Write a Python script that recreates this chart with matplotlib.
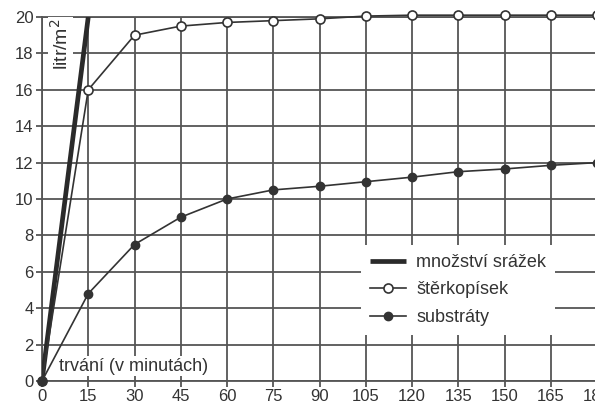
import matplotlib
matplotlib.use('Agg')
import matplotlib.pyplot as plt

plt.rcParams['font.family'] = ['Liberation Sans', 'DejaVu Sans']

# data
cas = [0, 15, 30, 45, 60, 75, 90, 105, 120, 135, 150, 165, 180]
sterkopisek = [0, 16.0, 19.0, 19.5, 19.7, 19.8, 19.9, 20.05, 20.1, 20.1, 20.1, 20.1, 20.1]
substraty = [0, 4.8, 7.5, 9.0, 10.0, 10.5, 10.7, 10.95, 11.2, 11.5, 11.65, 11.85, 12.0]
srazky_cas = [0, 15]
srazky = [0, 20]
x_ticks = list(range(0, 181, 15))
y_ticks = list(range(0, 21, 2))

ink = '#333333'
grid = '#555555'

fig = plt.figure(figsize=(5.95, 4.03), dpi=100)
ax = fig.add_axes([42 / 595, 22 / 403, 555 / 595, 364 / 403])

ax.plot(srazky_cas, srazky, color='#2a2a2a', lw=3.4, solid_capstyle='butt',
        label='množství srážek', zorder=4)
ax.plot(cas, sterkopisek, color=ink, lw=1.2, marker='o', ms=6.5,
        mfc='white', mec=ink, mew=1.2, label='štěrkopísek', zorder=5, clip_on=False)
ax.plot(cas, substraty, color=ink, lw=1.2, marker='o', ms=6,
        mfc=ink, mec=ink, label='substráty', zorder=5, clip_on=False)

ax.set_xlim(0, 180)
ax.set_ylim(0, 20)
ax.set_xticks(x_ticks)
ax.set_yticks(y_ticks)
ax.grid(True, color=grid, lw=1.3)
ax.set_axisbelow(True)
for s in ax.spines.values():
    s.set_color(grid)
    s.set_linewidth(1.3)
ax.tick_params(colors=grid, labelcolor=ink, labelsize=12, length=4, width=1.3, pad=2)

ax.text(2.5, 19.9, 'litr/m$^2$', rotation=90, ha='left', va='top', fontsize=14,
        color=ink, bbox=dict(fc='white', ec='none', pad=1), zorder=3)
ax.text(5.5, 0.8, 'trvání (v minutách)', ha='left', va='center', fontsize=13,
        color=ink, bbox=dict(fc='white', ec='none', pad=1), zorder=3)

leg = ax.legend(loc='center', bbox_to_anchor=(0.75, 0.25), fontsize=13,
                frameon=True, fancybox=False, framealpha=1, edgecolor='none',
                facecolor='white', handlelength=2.0, handletextpad=0.55,
                labelspacing=0.58, borderpad=0.5)
for t in leg.get_texts():
    t.set_color(ink)

fig.savefig('out.png', dpi=100)
